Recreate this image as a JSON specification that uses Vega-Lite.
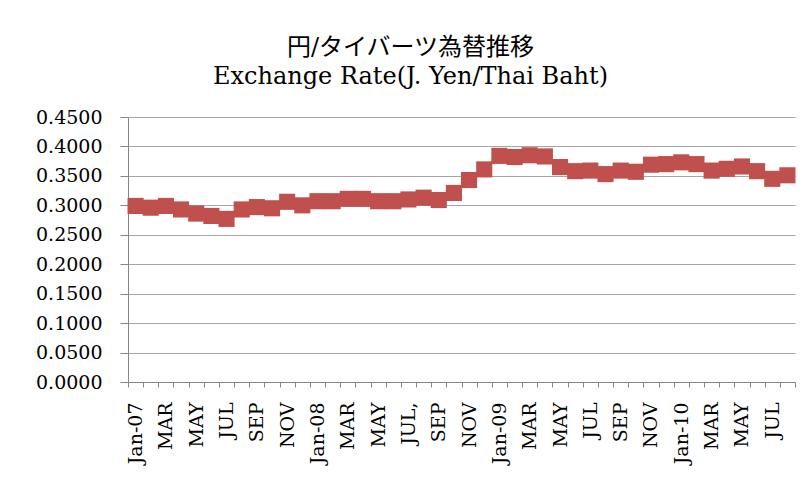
{
  "$schema": "https://vega.github.io/schema/vega-lite/v6.json",
  "autosize": "none",
  "width": 667,
  "height": 265,
  "padding": {"left": 128, "top": 117, "right": 15, "bottom": 112},
  "background": "white",
  "title": {
    "text": "円/タイバーツ為替推移",
    "subtitle": "Exchange Rate(J. Yen/Thai Baht)",
    "font": "DejaVu Serif, Noto Sans CJK JP",
    "fontSize": 24,
    "fontWeight": "normal",
    "color": "black",
    "subtitleFont": "DejaVu Serif",
    "subtitleFontSize": 24,
    "subtitleColor": "black",
    "subtitleFontWeight": "normal",
    "subtitlePadding": 5,
    "anchor": "middle",
    "dx": -51,
    "offset": 19
  },
  "config": {
    "view": {"stroke": null},
    "axis": {
      "labelFont": "DejaVu Serif",
      "labelColor": "black",
      "domainColor": "#868686",
      "tickColor": "#868686",
      "gridColor": "#a6a6a6"
    }
  },
  "data": {
    "values": [
      {"month": "2007-01", "rate": 0.299},
      {"month": "2007-02", "rate": 0.296},
      {"month": "2007-03", "rate": 0.299},
      {"month": "2007-04", "rate": 0.293},
      {"month": "2007-05", "rate": 0.286},
      {"month": "2007-06", "rate": 0.282},
      {"month": "2007-07", "rate": 0.277},
      {"month": "2007-08", "rate": 0.293},
      {"month": "2007-09", "rate": 0.297},
      {"month": "2007-10", "rate": 0.295},
      {"month": "2007-11", "rate": 0.306},
      {"month": "2007-12", "rate": 0.300},
      {"month": "2008-01", "rate": 0.307},
      {"month": "2008-02", "rate": 0.307},
      {"month": "2008-03", "rate": 0.311},
      {"month": "2008-04", "rate": 0.311},
      {"month": "2008-05", "rate": 0.307},
      {"month": "2008-06", "rate": 0.307},
      {"month": "2008-07", "rate": 0.310},
      {"month": "2008-08", "rate": 0.313},
      {"month": "2008-09", "rate": 0.309},
      {"month": "2008-10", "rate": 0.321},
      {"month": "2008-11", "rate": 0.343},
      {"month": "2008-12", "rate": 0.361},
      {"month": "2009-01", "rate": 0.384},
      {"month": "2009-02", "rate": 0.382},
      {"month": "2009-03", "rate": 0.385},
      {"month": "2009-04", "rate": 0.383},
      {"month": "2009-05", "rate": 0.365},
      {"month": "2009-06", "rate": 0.358},
      {"month": "2009-07", "rate": 0.359},
      {"month": "2009-08", "rate": 0.353},
      {"month": "2009-09", "rate": 0.359},
      {"month": "2009-10", "rate": 0.357},
      {"month": "2009-11", "rate": 0.369},
      {"month": "2009-12", "rate": 0.370},
      {"month": "2010-01", "rate": 0.373},
      {"month": "2010-02", "rate": 0.370},
      {"month": "2010-03", "rate": 0.359},
      {"month": "2010-04", "rate": 0.362},
      {"month": "2010-05", "rate": 0.366},
      {"month": "2010-06", "rate": 0.358},
      {"month": "2010-07", "rate": 0.345},
      {"month": "2010-08", "rate": 0.351}
    ]
  },
  "mark": {
    "type": "line",
    "color": "#C0504D",
    "strokeWidth": 3,
    "point": {"shape": "square", "size": 260, "filled": true, "color": "#C0504D", "opacity": 1}
  },
  "encoding": {
    "x": {
      "field": "month",
      "type": "ordinal",
      "sort": null,
      "scale": {"type": "band", "paddingInner": 0, "paddingOuter": 0},
      "axis": {
        "title": null,
        "labelAngle": -90,
        "labelAlign": "right",
        "labelBaseline": "middle",
        "labelFontSize": 19,
        "tickBand": "extent",
        "tickSize": 5,
        "labelPadding": 15,
        "grid": false,
        "labelOverlap": false,
        "labelExpr": "!isString(datum.value) ? '' : datum.value == '2008-07' ? 'JUL,' : ['Jan-' + substring(datum.value, 2, 4), '', 'MAR', '', 'MAY', '', 'JUL', '', 'SEP', '', 'NOV', ''][toNumber(substring(datum.value, 5, 7)) - 1]"
      }
    },
    "y": {
      "field": "rate",
      "type": "quantitative",
      "scale": {"domain": [0, 0.45], "nice": false, "zero": true},
      "axis": {
        "title": null,
        "values": [0, 0.05, 0.1, 0.15, 0.2, 0.25, 0.3, 0.35, 0.4, 0.45],
        "format": ".4f",
        "labelFontSize": 19,
        "tickSize": 8,
        "labelPadding": 18,
        "grid": true
      }
    }
  }
}
